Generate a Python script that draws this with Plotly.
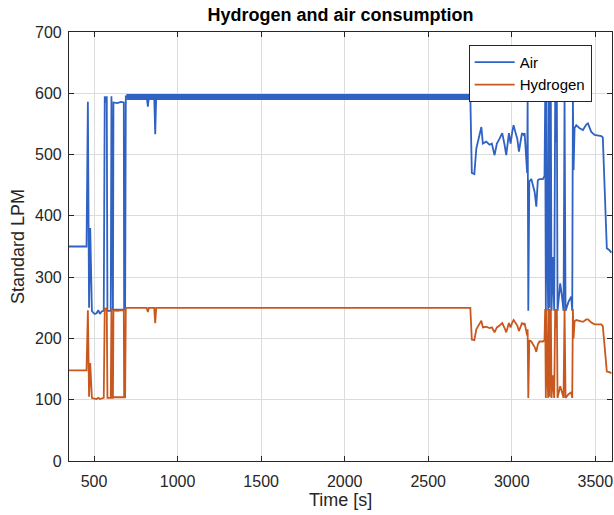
import plotly.graph_objects as go

# ---- data ----
time_s = [350, 455, 463, 470, 477, 487, 495, 505, 515, 525, 535, 545, 558,
          564, 570, 576, 580, 600, 604, 609, 613, 616, 640, 660, 678, 680, 614, 686, 690,
          720, 800, 815, 822, 828, 860, 866, 872, 1000, 1500, 2000, 2500, 2752,
          2761, 2776, 2788, 2803, 2818, 2827, 2847, 2867, 2881, 2897, 2911, 2927, 2943,
          2957, 2967, 2983, 2993, 3003, 3011, 3023, 3033, 3043, 3053, 3061, 3071,
          3077, 3092, 3095, 3099, 3105, 3117, 3127, 3137, 3147, 3156, 3166, 3186, 3196,
          3200, 3204, 3208, 3212, 3218, 3222, 3226, 3230, 3234, 3238, 3246, 3254, 3260,
          3264, 3270, 3274, 3290, 3300, 3310, 3316, 3322, 3340, 3356, 3362, 3366, 3370,
          3376, 3386, 3406, 3426, 3446, 3456, 3476, 3496, 3536, 3545, 3561, 3569, 3585, 3596]

air_lpm = [350, 350, 586, 250, 380, 245, 242, 240, 241, 246, 240, 244, 245,
           595, 585, 595, 245, 245, 595, 245, 245, 585, 584, 586, 585, 247, 247, 247, 595,
           595, 595, 595, 578, 595, 595, 533, 595, 595, 595, 595, 595, 595,
           470, 468, 510, 529, 545, 518, 521, 516, 518, 499, 518, 526, 535,
           516, 499, 535, 518, 537, 548, 535, 526, 505, 526, 535, 532,
           535, 470, 592, 245, 456, 460, 450, 439, 415, 458, 460, 460, 465,
           592, 245, 592, 360, 245, 592, 250, 592, 590, 245, 333, 245, 592,
           520, 592, 245, 290, 270, 245, 592, 245, 260, 268, 245, 592, 475,
           543, 548, 543, 540, 549, 551, 537, 532, 530, 528, 407, 347, 344, 340]

hydrogen_lpm = [148, 148, 246, 105, 160, 103, 102, 101, 101, 103, 101, 102, 103,
                250, 246, 250, 103, 103, 250, 103, 103, 246, 245, 246, 246, 104, 104, 104, 250,
                250, 250, 250, 243, 250, 250, 225, 250, 250, 250, 250, 250, 250,
                198, 197, 215, 222, 229, 218, 219, 217, 218, 210, 218, 221, 225,
                217, 210, 225, 218, 226, 230, 225, 221, 212, 221, 225, 223,
                225, 205, 215, 103, 197, 195, 190, 186, 178, 190, 195, 195, 197,
                248, 103, 248, 151, 103, 248, 105, 248, 247, 103, 140, 103, 248,
                218, 248, 103, 122, 113, 103, 248, 103, 109, 112, 103, 248, 200,
                228, 230, 228, 227, 231, 231, 226, 223, 223, 220, 171, 146, 145, 143]

# dense high-frequency plateau of the air flow (drawn as a thick band)
air_band_t = [693, 2752]
air_band_v = [594, 594]

x_ticks = [500, 1000, 1500, 2000, 2500, 3000, 3500]
y_ticks = [0, 100, 200, 300, 400, 500, 600, 700]

AIR_C = "#2f62c2"
H2_C = "#c9581f"
FONT = "Liberation Sans, Arial, sans-serif"

fig = go.Figure()
fig.add_trace(go.Scatter(x=time_s, y=air_lpm, mode="lines", name="Air",
                         line=dict(color=AIR_C, width=1.8)))
fig.add_trace(go.Scatter(x=air_band_t, y=air_band_v, mode="lines", showlegend=False,
                         line=dict(color=AIR_C, width=6), hoverinfo="skip"))
fig.add_trace(go.Scatter(x=time_s, y=hydrogen_lpm, mode="lines", name="Hydrogen",
                         line=dict(color=H2_C, width=1.8)))

axis_common = dict(showgrid=True, gridcolor="#dcdcdc", gridwidth=1,
                   showline=True, linecolor="#262626", linewidth=1.2, mirror="allticks",
                   ticks="inside", ticklen=5, tickcolor="#262626", zeroline=False,
                   tickfont=dict(family=FONT, size=16, color="#262626"))

fig.update_layout(
    width=614, height=515,
    margin=dict(l=69, r=2, t=32, b=54),
    paper_bgcolor="white", plot_bgcolor="white",
    font=dict(family=FONT, color="#262626"),
    title=dict(text="<b>Hydrogen and air consumption</b>", x=0.5, xref="paper",
               y=1 - 15 / 515, yref="container", yanchor="middle", xanchor="center",
               font=dict(family=FONT, size=18, color="#000000")),
    xaxis=dict(range=[350, 3600], tickvals=x_ticks, ticktext=[str(v) for v in x_ticks],
               ticklabelstandoff=6, **axis_common),
    yaxis=dict(range=[0, 700], tickvals=y_ticks, ticktext=[str(v) for v in y_ticks],
               ticklabelstandoff=3, **axis_common),
    legend=dict(x=0.736, y=0.970, xanchor="left", yanchor="top",
                bgcolor="white", bordercolor="#262626", borderwidth=1,
                font=dict(family=FONT, size=15, color="#000000"),
                tracegroupgap=0, itemwidth=40),
    showlegend=True,
    annotations=[
        dict(text="Time [s]", xref="paper", yref="paper", x=0.5, y=(461 - 500) / 429,
             xanchor="center", yanchor="middle", showarrow=False,
             font=dict(family=FONT, size=18, color="#262626")),
        dict(text="Standard LPM", xref="paper", yref="paper", x=(18 - 69.4) / 543.1, y=0.5,
             xanchor="center", yanchor="middle", textangle=-90, showarrow=False,
             font=dict(family=FONT, size=18, color="#262626")),
    ],
)

fig.write_html("out.html")
